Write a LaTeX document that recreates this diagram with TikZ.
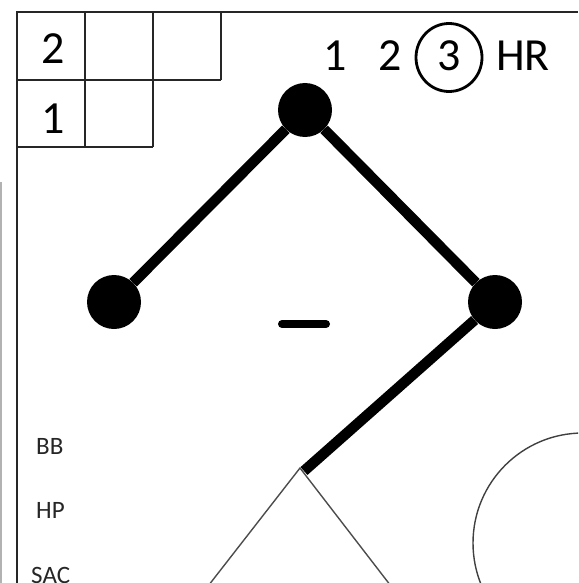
\documentclass[tikz,border=0pt]{standalone}
\usepackage{fontspec}
\setmainfont{Carlito}
\begin{document}
\begin{tikzpicture}[x=1pt,y=-1pt,
  frame/.style={line width=2.4pt,draw=black!85},
  gridline/.style={line width=1.8pt,draw=black!85},
  bigtxt/.style={font=\fontsize{46}{46}\selectfont,inner sep=0pt,anchor=center},
  smalltxt/.style={font=\fontsize{25}{25}\selectfont,text=black!85,inner sep=0pt,anchor=west},
  dot/.style={circle,fill=black,minimum size=54pt,inner sep=0pt},
  thick/.style={line width=10.5pt,black},
  thin/.style={line width=1.4pt,draw=black!70}]
\useasboundingbox (0,0) rectangle (578,583);
\begin{scope}
\clip (0,0) rectangle (578,583);
% outer frame
\draw[frame] (578,12) -- (17,12) -- (17,583);
\draw[line width=1.5pt,draw=black!30] (1,182) -- (1,583);
% grid
\draw[gridline] (17,80) -- (221,80);
\draw[gridline] (17,147) -- (153,147);
\draw[gridline] (85,12) -- (85,147);
\draw[gridline] (153,12) -- (153,147);
\draw[gridline] (221,12) -- (221,80);
\node[bigtxt] (g2) at (53,49) {2};
\node[bigtxt] (g1) at (53,119) {1};
% count
\node[bigtxt] (c1) at (335,56) {1};
\node[bigtxt] (c2) at (390,56) {2};
\node[bigtxt] (c3) at (449,56) {3};
\node[bigtxt] (hr) at (523,56) {HR};
\draw[line width=2.8pt] (449,57.5) ellipse[x radius=33,y radius=34];
% bases
\node[dot] (second) at (305,110) {};
\node[dot] (third) at (114,302) {};
\node[dot] (first) at (495,302) {};
\coordinate (home) at (300,468);
\coordinate (homeend) at (304,471);
\draw[thick] (third) -- (second) -- (first) -- (homeend);
\draw[thin] (205,590) -- (home) -- (394,590);
\draw[line width=8pt,line cap=round] (282,324) -- (326,324);
% field arc
\draw[line width=1.4pt,draw=black!75] (583,543) circle[radius=110];
% labels
\node[smalltxt] (bb) at (36,446) {BB};
\node[smalltxt] (hp) at (36,510) {HP};
\node[smalltxt] (sac) at (31,575) {SAC};
\end{scope}
\end{tikzpicture}
\end{document}
